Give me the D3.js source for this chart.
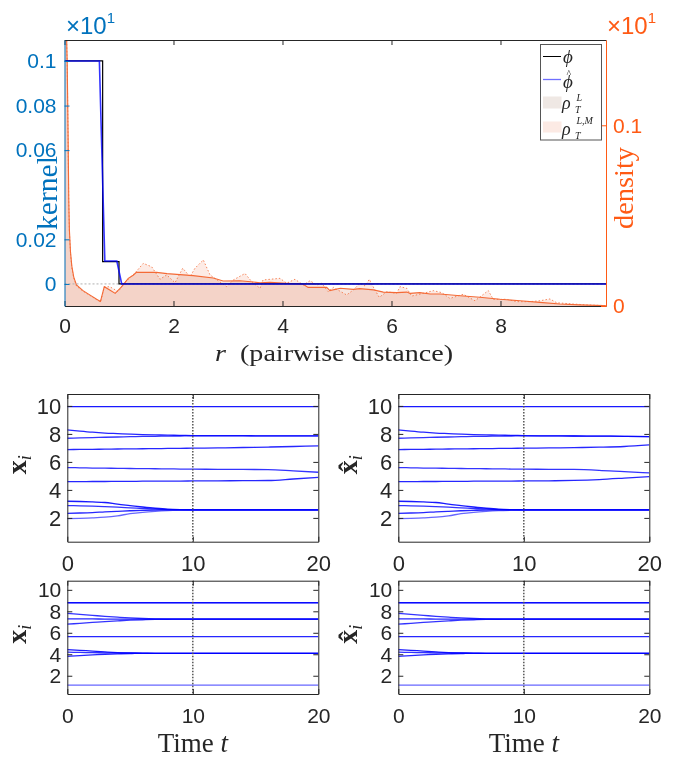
<!DOCTYPE html>
<html>
<head>
<meta charset="utf-8">
<script src="https://cdn.jsdelivr.net/npm/d3@7"></script>
<style>
  body { margin: 0; background: #fff; }
  svg { display: block; }
</style>
</head>
<body>
<svg id="chart" width="677" height="757"></svg>
<script>
// ---------- interaction kernel: true phi and learned phi-hat ----------
const phiTrue = [[0, 0.1], [0.70, 0.1], [0.70, 0.01], [1.00, 0.01], [1.00, 0], [9.94, 0]];
const phiHat  = [[0, 0.1], [0.64, 0.1], [0.74, 0.0103], [0.96, 0.0103], [1.05, 0], [9.94, 0]];

// ---------- pairwise-distance densities (r, density) ----------
const rhoL = [
  [0, 0.30], [0.03, 0.16], [0.05, 0.134], [0.065, 0.097], [0.078, 0.060], [0.09, 0.042],
  [0.11, 0.030], [0.135, 0.022], [0.17, 0.016], [0.22, 0.0116], [0.34, 0.0085], [0.47, 0.006],
  [0.59, 0.0037], [0.66, 0.0025], [0.73, 0.0107], [0.83, 0.0089], [0.93, 0.007], [1.05, 0.0107],
  [1.17, 0.0153], [1.26, 0.017], [1.32, 0.0186], [1.69, 0.0186], [1.88, 0.0179], [2.36, 0.0168],
  [2.73, 0.0155], [2.91, 0.0138], [3.22, 0.014], [3.59, 0.0129], [3.77, 0.0131], [4.38, 0.012],
  [4.47, 0.0103], [4.81, 0.0103], [4.87, 0.0085], [5.06, 0.0098], [5.30, 0.0092], [5.42, 0.0096],
  [5.67, 0.0089], [5.85, 0.0077], [6.10, 0.0074], [6.28, 0.0077], [6.34, 0.007], [6.52, 0.0074],
  [6.71, 0.0066], [6.89, 0.0066], [7.26, 0.0057], [7.62, 0.0048], [7.99, 0.0037], [8.36, 0.0029],
  [8.72, 0.002], [9.09, 0.0011], [9.45, 0.0006], [9.88, 0.0002], [9.936, 0.0001]
];
const rhoLM = [
  [0, 0.30], [0.03, 0.16], [0.05, 0.133], [0.065, 0.095], [0.078, 0.058], [0.09, 0.041],
  [0.11, 0.029], [0.135, 0.021], [0.17, 0.0155], [0.22, 0.011], [0.34, 0.0082], [0.47, 0.0058],
  [0.59, 0.0035], [0.66, 0.0022], [0.73, 0.0105], [0.83, 0.0107], [0.99, 0.0079], [1.08, 0.0125],
  [1.18, 0.015], [1.30, 0.0185], [1.446, 0.0236], [1.60, 0.0217], [1.752, 0.0148], [1.875, 0.0172],
  [2.028, 0.0129], [2.169, 0.0209], [2.303, 0.0162], [2.394, 0.0209], [2.547, 0.0255], [2.67, 0.0172],
  [2.976, 0.0107], [3.097, 0.0144], [3.312, 0.018], [3.435, 0.0135], [3.587, 0.0098], [3.642, 0.0144],
  [3.954, 0.0153], [4.077, 0.0126], [4.229, 0.0148], [4.382, 0.0116], [4.505, 0.014], [4.628, 0.0116],
  [4.719, 0.0126], [4.84, 0.0079], [4.932, 0.0103], [5.178, 0.0061], [5.299, 0.0089], [5.422, 0.0126],
  [5.514, 0.0111], [5.593, 0.0148], [5.679, 0.0098], [5.776, 0.0048], [5.912, 0.0079], [6.095, 0.007],
  [6.156, 0.0107], [6.279, 0.0098], [6.371, 0.0055], [6.583, 0.007], [6.767, 0.0085], [6.921, 0.0074],
  [7.073, 0.0042], [7.317, 0.0065], [7.532, 0.0029], [7.776, 0.0085], [7.868, 0.0037], [8.114, 0.0037],
  [8.297, 0.0024], [8.541, 0.0024], [8.725, 0.0029], [8.908, 0.0039], [9.031, 0.0018], [9.336, 0.0011],
  [9.581, 0.0006], [9.936, 0.0002]
];

const rTicks = [0, 2, 4, 6, 8];
const kernelTicks = [0, 0.02, 0.06, 0.08, 0.1];
const densityTicks = [0, 0.1];

// ---------- agent trajectories x_i(t) ----------
const timeGrid = [0, 1, 2, 3, 4, 5, 6, 7, 8, 9, 10, 12, 14, 16, 18, 20];
const timeTicks = [0, 10, 20];
const posTicks = [2, 4, 6, 8, 10];

// first initial condition: true system
const xTrueA = [
  [9.95, 9.95, 9.95, 9.95, 9.95, 9.95, 9.95, 9.95, 9.95, 9.95, 9.95, 9.95, 9.95, 9.95, 9.95, 9.95],
  [8.29, 8.20, 8.12, 8.06, 8.02, 7.98, 7.95, 7.93, 7.91, 7.90, 7.88, 7.87, 7.87, 7.86, 7.86, 7.86],
  [7.69, 7.71, 7.73, 7.76, 7.78, 7.80, 7.82, 7.83, 7.84, 7.85, 7.86, 7.86, 7.86, 7.86, 7.86, 7.86],
  [6.88, 6.89, 6.90, 6.91, 6.92, 6.93, 6.94, 6.95, 6.96, 6.97, 6.98, 7.00, 7.03, 7.06, 7.10, 7.14],
  [5.59, 5.58, 5.56, 5.55, 5.54, 5.53, 5.52, 5.51, 5.50, 5.49, 5.48, 5.47, 5.46, 5.45, 5.36, 5.26],
  [4.59, 4.59, 4.60, 4.60, 4.61, 4.61, 4.62, 4.62, 4.63, 4.63, 4.64, 4.65, 4.66, 4.67, 4.78, 4.90],
  [3.19, 3.17, 3.14, 3.10, 2.98, 2.88, 2.78, 2.69, 2.62, 2.59, 2.58, 2.57, 2.57, 2.57, 2.57, 2.57],
  [2.88, 2.86, 2.84, 2.81, 2.77, 2.72, 2.67, 2.62, 2.59, 2.58, 2.57, 2.57, 2.57, 2.57, 2.57, 2.57],
  [2.33, 2.35, 2.38, 2.43, 2.47, 2.51, 2.54, 2.56, 2.57, 2.57, 2.57, 2.57, 2.57, 2.57, 2.57, 2.57],
  [1.95, 1.97, 2.00, 2.05, 2.15, 2.30, 2.40, 2.47, 2.52, 2.55, 2.57, 2.57, 2.57, 2.57, 2.57, 2.57]
];
// first initial condition: learned system
const xHatA = [
  [9.95, 9.95, 9.95, 9.95, 9.95, 9.95, 9.95, 9.95, 9.95, 9.95, 9.95, 9.95, 9.95, 9.95, 9.95, 9.95],
  [8.29, 8.20, 8.12, 8.06, 8.02, 7.98, 7.95, 7.93, 7.91, 7.90, 7.88, 7.86, 7.85, 7.84, 7.83, 7.80],
  [7.69, 7.71, 7.73, 7.76, 7.78, 7.80, 7.82, 7.83, 7.84, 7.85, 7.86, 7.86, 7.85, 7.84, 7.83, 7.80],
  [6.88, 6.89, 6.90, 6.91, 6.92, 6.93, 6.94, 6.95, 6.96, 6.97, 6.98, 7.00, 7.02, 7.05, 7.10, 7.21],
  [5.59, 5.58, 5.56, 5.55, 5.54, 5.53, 5.52, 5.51, 5.50, 5.49, 5.48, 5.47, 5.46, 5.40, 5.30, 5.21],
  [4.59, 4.59, 4.60, 4.60, 4.61, 4.61, 4.62, 4.62, 4.63, 4.63, 4.64, 4.65, 4.68, 4.74, 4.84, 4.95],
  [3.19, 3.17, 3.14, 3.10, 2.98, 2.88, 2.78, 2.69, 2.62, 2.59, 2.58, 2.57, 2.57, 2.57, 2.57, 2.57],
  [2.88, 2.86, 2.84, 2.81, 2.77, 2.72, 2.67, 2.62, 2.59, 2.58, 2.57, 2.57, 2.57, 2.57, 2.57, 2.57],
  [2.33, 2.35, 2.38, 2.43, 2.47, 2.51, 2.54, 2.56, 2.57, 2.57, 2.57, 2.57, 2.57, 2.57, 2.57, 2.57],
  [1.95, 1.97, 2.00, 2.05, 2.15, 2.30, 2.40, 2.47, 2.52, 2.55, 2.57, 2.57, 2.57, 2.57, 2.57, 2.57]
];
// second initial condition: true system
const xTrueB = [
  [8.80, 8.80, 8.80, 8.80, 8.80, 8.80, 8.80, 8.80, 8.80, 8.80, 8.80, 8.80, 8.80, 8.80, 8.80, 8.80],
  [8.78, 8.78, 8.78, 8.78, 8.78, 8.78, 8.78, 8.78, 8.78, 8.78, 8.78, 8.78, 8.78, 8.78, 8.78, 8.78],
  [7.80, 7.71, 7.62, 7.53, 7.45, 7.38, 7.33, 7.30, 7.28, 7.27, 7.27, 7.27, 7.27, 7.27, 7.27, 7.27],
  [7.30, 7.29, 7.29, 7.28, 7.28, 7.27, 7.27, 7.27, 7.27, 7.27, 7.27, 7.27, 7.27, 7.27, 7.27, 7.27],
  [6.80, 6.88, 6.96, 7.04, 7.11, 7.17, 7.21, 7.24, 7.26, 7.27, 7.27, 7.27, 7.27, 7.27, 7.27, 7.27],
  [5.65, 5.65, 5.65, 5.65, 5.65, 5.65, 5.65, 5.65, 5.65, 5.65, 5.65, 5.65, 5.65, 5.65, 5.65, 5.65],
  [4.44, 4.37, 4.29, 4.22, 4.16, 4.12, 4.10, 4.09, 4.09, 4.09, 4.09, 4.09, 4.09, 4.09, 4.09, 4.09],
  [4.19, 4.17, 4.15, 4.13, 4.11, 4.10, 4.09, 4.09, 4.09, 4.09, 4.09, 4.09, 4.09, 4.09, 4.09, 4.09],
  [3.81, 3.88, 3.94, 4.00, 4.04, 4.07, 4.08, 4.09, 4.09, 4.09, 4.09, 4.09, 4.09, 4.09, 4.09, 4.09],
  [1.13, 1.13, 1.13, 1.13, 1.13, 1.13, 1.13, 1.13, 1.13, 1.13, 1.13, 1.13, 1.13, 1.13, 1.13, 1.13]
];
// second initial condition: learned system
const xHatB = [
  [8.80, 8.80, 8.80, 8.80, 8.80, 8.80, 8.80, 8.80, 8.80, 8.80, 8.80, 8.80, 8.80, 8.80, 8.80, 8.80],
  [8.78, 8.78, 8.78, 8.78, 8.78, 8.78, 8.78, 8.78, 8.78, 8.78, 8.78, 8.78, 8.78, 8.78, 8.78, 8.78],
  [7.80, 7.71, 7.62, 7.53, 7.45, 7.38, 7.33, 7.30, 7.28, 7.27, 7.27, 7.27, 7.27, 7.27, 7.27, 7.27],
  [7.30, 7.29, 7.29, 7.28, 7.28, 7.27, 7.27, 7.27, 7.27, 7.27, 7.27, 7.27, 7.27, 7.27, 7.27, 7.27],
  [6.80, 6.88, 6.96, 7.04, 7.11, 7.17, 7.21, 7.24, 7.26, 7.27, 7.27, 7.27, 7.27, 7.27, 7.27, 7.27],
  [5.65, 5.65, 5.65, 5.65, 5.65, 5.65, 5.65, 5.65, 5.65, 5.65, 5.65, 5.65, 5.65, 5.65, 5.65, 5.65],
  [4.44, 4.37, 4.29, 4.22, 4.16, 4.12, 4.10, 4.09, 4.09, 4.09, 4.09, 4.09, 4.09, 4.09, 4.09, 4.09],
  [4.19, 4.17, 4.15, 4.13, 4.11, 4.10, 4.09, 4.09, 4.09, 4.09, 4.09, 4.09, 4.09, 4.09, 4.09, 4.09],
  [3.81, 3.88, 3.94, 4.00, 4.04, 4.07, 4.08, 4.09, 4.09, 4.09, 4.09, 4.09, 4.09, 4.09, 4.09, 4.09],
  [1.13, 1.13, 1.13, 1.13, 1.13, 1.13, 1.13, 1.13, 1.13, 1.13, 1.13, 1.13, 1.13, 1.13, 1.13, 1.13]
];
const trainEnd = 10;   // end of the observed time window

// ---------- styling ----------
const SANS = "'Liberation Sans', Arial, Helvetica, sans-serif";
const SERIF = "'Liberation Serif', 'Times New Roman', serif";
const DARK = "#262626";
const AX_BLUE = "#0072BD";
const AX_ORANGE = "#FF5A14";
const RHO_LINE = "#F46A36";
const FILL_L = "#F6E5DF";
const FILL_LM = "#FDEBE5";

const svg = d3.select("#chart");

function styleAxis(g, color, fontSize) {
  g.selectAll("path.domain").attr("stroke", color).attr("stroke-width", 1);
  g.selectAll(".tick line").attr("stroke", color);
  g.selectAll(".tick text").attr("fill", color).attr("font-family", SANS).attr("font-size", fontSize);
}

// =============== kernel / density panel ===============
const P = { l: 64.5, r: 606, t: 40, b: 306 };
const xR = d3.scaleLinear().domain([0, 9.936]).range([P.l, P.r]);
const yK = d3.scaleLinear().domain([-0.0099, 0.1094]).range([P.b, P.t]);
const yD = d3.scaleLinear().domain([0, 0.1472]).range([P.b, P.t]);

svg.append("clipPath").attr("id", "clipTop")
  .append("rect").attr("x", P.l).attr("y", P.t).attr("width", P.r - P.l).attr("height", P.b - P.t);

const plot = svg.append("g").attr("clip-path", "url(#clipTop)");

const densArea = d3.area().x(d => xR(d[0])).y0(yD(0)).y1(d => yD(d[1]));
const densLine = d3.line().x(d => xR(d[0])).y(d => yD(d[1]));

plot.append("path").datum(rhoLM).attr("d", densArea)
  .attr("fill", FILL_LM).style("mix-blend-mode", "multiply");
plot.append("path").datum(rhoL).attr("d", densArea)
  .attr("fill", FILL_L).style("mix-blend-mode", "multiply");

plot.append("path").datum(rhoLM).attr("d", densLine)
  .attr("fill", "none").attr("stroke", RHO_LINE).attr("stroke-width", 1)
  .attr("stroke-dasharray", "1.5,2").attr("stroke-opacity", 0.8);
plot.append("path").datum(rhoL).attr("d", densLine)
  .attr("fill", "none").attr("stroke", RHO_LINE).attr("stroke-width", 1.1);

// zero reference line of the kernel axis
plot.append("line")
  .attr("x1", P.l).attr("x2", P.r).attr("y1", yK(0)).attr("y2", yK(0))
  .attr("stroke", "#b0b0b0").attr("stroke-width", 1).attr("stroke-dasharray", "2,2");

const kernLine = d3.line().x(d => xR(d[0])).y(d => yK(d[1]));
plot.append("path").datum(phiTrue).attr("d", kernLine)
  .attr("fill", "none").attr("stroke", "#000").attr("stroke-width", 1.2);
plot.append("path").datum(phiHat).attr("d", kernLine)
  .attr("fill", "none").attr("stroke", "#0000FF").attr("stroke-width", 1.6).attr("stroke-opacity", 0.8);

// axes
const gxB = svg.append("g").attr("transform", `translate(0,${P.b})`)
  .call(d3.axisBottom(xR).tickValues(rTicks).tickFormat(d3.format("d")).tickSizeInner(-5).tickSizeOuter(0).tickPadding(12));
styleAxis(gxB, DARK, 21);
const gxT = svg.append("g").attr("transform", `translate(0,${P.t})`)
  .call(d3.axisTop(xR).tickValues(rTicks).tickFormat("").tickSizeInner(-5).tickSizeOuter(0));
styleAxis(gxT, DARK, 21);

const gyK = svg.append("g").attr("transform", `translate(${P.l},0)`)
  .call(d3.axisLeft(yK).tickValues(kernelTicks).tickFormat(d => d === 0 ? "0" : String(+d.toFixed(2)))
    .tickSizeInner(-5).tickSizeOuter(0).tickPadding(8));
styleAxis(gyK, AX_BLUE, 21);

const gyD = svg.append("g").attr("transform", `translate(${P.r},0)`)
  .call(d3.axisRight(yD).tickValues(densityTicks).tickFormat(d => d === 0 ? "0" : String(d))
    .tickSizeInner(-5).tickSizeOuter(0).tickPadding(7));
styleAxis(gyD, AX_ORANGE, 21);

// axis exponents
function exponent(x, y, color) {
  const t = svg.append("text").attr("x", x).attr("y", y).attr("fill", color)
    .attr("font-family", SANS).attr("font-size", 24);
  t.append("tspan").text("\u00D710");
  t.append("tspan").attr("font-size", 15).attr("dy", -11).text("1");
}
exponent(66, 34, AX_BLUE);
exponent(607, 34, AX_ORANGE);

// axis titles
svg.append("text").attr("transform", "translate(57,193) rotate(-90)")
  .attr("text-anchor", "middle").attr("font-family", SERIF).attr("font-size", 29)
  .attr("fill", AX_BLUE).attr("textLength", 74).attr("lengthAdjust", "spacingAndGlyphs").text("kernel");
svg.append("text").attr("transform", "translate(633,188) rotate(-90)")
  .attr("text-anchor", "middle").attr("font-family", SERIF).attr("font-size", 28)
  .attr("fill", AX_ORANGE).attr("textLength", 82).attr("lengthAdjust", "spacingAndGlyphs").text("density");

const xl = svg.append("text").attr("x", 334).attr("y", 361).attr("text-anchor", "middle")
  .attr("font-family", SERIF).attr("font-size", 24).attr("fill", DARK)
  .attr("textLength", 238).attr("lengthAdjust", "spacingAndGlyphs");
xl.append("tspan").attr("font-style", "italic").text("r");
xl.append("tspan").text("\u2002(pairwise distance)");

// legend
const lg = svg.append("g");
lg.append("rect").attr("x", 540.5).attr("y", 44.5).attr("width", 61).attr("height", 95.5)
  .attr("fill", "#fff").attr("stroke", "#555").attr("stroke-width", 1);
lg.append("line").attr("x1", 543).attr("x2", 561).attr("y1", 56.5).attr("y2", 56.5).attr("stroke", "#000");
lg.append("line").attr("x1", 543).attr("x2", 561).attr("y1", 79.5).attr("y2", 79.5).attr("stroke", "#6F6FFF").attr("stroke-width", 1.3);
lg.append("rect").attr("x", 543).attr("y", 96.5).attr("width", 18.5).attr("height", 12).attr("fill", "#EFE8E4");
lg.append("rect").attr("x", 543).attr("y", 121.5).attr("width", 18.5).attr("height", 11).attr("fill", "#FCEAE4");

function lgText(x, y, txt, size, italic) {
  return lg.append("text").attr("x", x).attr("y", y).attr("font-family", SERIF)
    .attr("font-size", size).attr("font-style", italic ? "italic" : "normal").attr("fill", DARK).text(txt);
}
lgText(563, 63, "\u03D5", 19, true);
lgText(563, 88, "\u03D5", 19, true);
lgText(566.5, 77, "^", 10, false);
lgText(562, 109, "\u03C1", 18, true);
lgText(576.5, 101, "L", 10, true);
lgText(575, 113, "T", 10, true);
lgText(562, 135, "\u03C1", 18, true);
lgText(576.5, 124, "L,M", 10, true);
lgText(575, 139, "T", 10, true);

// =============== trajectory panels ===============
const yPos = [0.3, 10.85];
const panels = [
  { x0: 67.3, x1: 318.3, y0: 394, y1: 541.7, data: xTrueA, hat: false, time: false },
  { x0: 398.3, x1: 649.3, y0: 394, y1: 541.7, data: xHatA, hat: true, time: false },
  { x0: 67.3, x1: 318.3, y0: 580.7, y1: 694, data: xTrueB, hat: false, time: true },
  { x0: 398.3, x1: 649.3, y0: 580.7, y1: 694, data: xHatB, hat: true, time: true }
];

const agentOpacity = [0.9, 0.85, 0.8, 0.85, 0.8, 0.85, 0.9, 0.8, 0.85, 0.6];

panels.forEach((p, pi) => {
  const xs = d3.scaleLinear().domain([0, 20]).range([p.x0, p.x1]);
  const ys = d3.scaleLinear().domain(yPos).range([p.y1, p.y0]);
  const id = "clipP" + pi;
  svg.append("clipPath").attr("id", id).append("rect")
    .attr("x", p.x0).attr("y", p.y0).attr("width", p.x1 - p.x0).attr("height", p.y1 - p.y0);
  const g = svg.append("g").attr("clip-path", `url(#${id})`);

  const line = d3.line().x((d, i) => xs(timeGrid[i])).y(d => ys(d)).curve(d3.curveMonotoneX);
  p.data.forEach((traj, k) => {
    g.append("path").datum(traj).attr("d", line)
      .attr("fill", "none").attr("stroke", "#0000FF").attr("stroke-width", 1.3)
      .attr("stroke-opacity", agentOpacity[k]);
  });

  g.append("line").attr("x1", xs(trainEnd)).attr("x2", xs(trainEnd))
    .attr("y1", p.y0).attr("y2", p.y1)
    .attr("stroke", "#555").attr("stroke-width", 1.5).attr("stroke-dasharray", "1.5,1.5");

  const fs = p.time ? 21 : 22;
  const ax = [
    svg.append("g").attr("transform", `translate(0,${p.y1})`)
      .call(d3.axisBottom(xs).tickValues(timeTicks).tickFormat(d3.format("d")).tickSizeInner(-5).tickSizeOuter(0).tickPadding(14)),
    svg.append("g").attr("transform", `translate(0,${p.y0})`)
      .call(d3.axisTop(xs).tickValues(timeTicks).tickFormat("").tickSizeInner(-5).tickSizeOuter(0)),
    svg.append("g").attr("transform", `translate(${p.x0},0)`)
      .call(d3.axisLeft(ys).tickValues(posTicks).tickFormat(d3.format("d")).tickSizeInner(-5).tickSizeOuter(0).tickPadding(6)),
    svg.append("g").attr("transform", `translate(${p.x1},0)`)
      .call(d3.axisRight(ys).tickValues(posTicks).tickFormat("").tickSizeInner(-5).tickSizeOuter(0))
  ];
  ax.forEach(a => styleAxis(a, DARK, fs));
  ax[2].selectAll(".tick text").attr("dy", "0.34em");

  // y title: bold x (hatted for the learned system) with italic subscript i
  const cy = (p.y0 + p.y1) / 2 - 3;
  const lab = svg.append("g").attr("transform", `translate(${p.x0 - 41},${cy}) rotate(-90)`);
  const t = lab.append("text").attr("text-anchor", "middle").attr("font-family", SERIF).attr("fill", DARK);
  t.append("tspan").attr("font-weight", "bold").attr("font-size", 28).text(p.hat ? "x\u0302" : "x");
  t.append("tspan").attr("font-style", "italic").attr("font-size", 18).attr("dy", 5).text("i");

  if (p.time) {
    const tt = svg.append("text").attr("x", (p.x0 + p.x1) / 2).attr("y", 752).attr("text-anchor", "middle")
      .attr("font-family", SERIF).attr("font-size", 27).attr("fill", DARK);
    tt.append("tspan").text("Time ");
    tt.append("tspan").attr("font-style", "italic").text("t");
  }
});
</script>
</body>
</html>
